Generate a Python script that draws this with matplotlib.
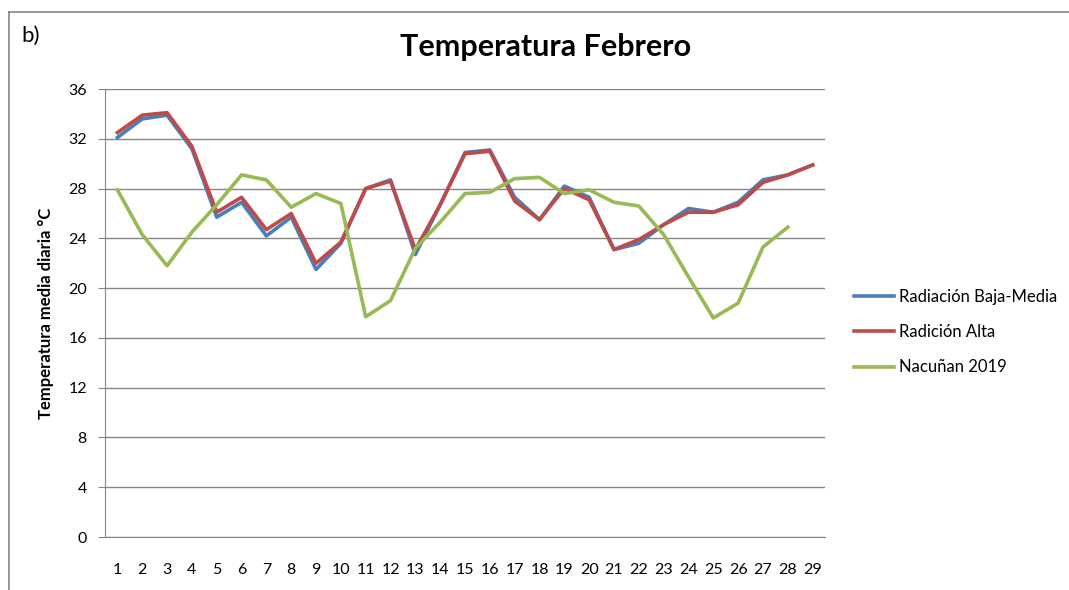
import numpy as np
from matplotlib import pyplot as plt
from matplotlib.lines import Line2D

# datos ----------------------------------------
dias = list(range(1, 30))
rad_baja_media = [32.1, 33.6, 33.9, 31.2, 25.7, 26.9, 24.2, 25.7, 21.5, 23.6,
                  28.0, 28.7, 22.7, 26.7, 30.9, 31.1, 27.3, 25.5, 28.2, 27.3,
                  23.1, 23.6, 25.1, 26.4, 26.1, 26.9, 28.7, 29.1, 29.9]
rad_alta = [32.5, 33.9, 34.1, 31.4, 26.1, 27.3, 24.7, 26.0, 22.0, 23.7,
            28.0, 28.6, 23.1, 26.7, 30.8, 31.0, 27.0, 25.5, 28.0, 27.1,
            23.1, 23.9, 25.1, 26.1, 26.1, 26.7, 28.5, 29.1, 29.9]
nacunan_2019 = [27.9, 24.3, 21.8, 24.5, 26.7, 29.1, 28.7, 26.5, 27.6, 26.8,
                17.7, 19.0, 23.2, 25.3, 27.6, 27.7, 28.8, 28.9, 27.6, 27.9,
                26.9, 26.6, 24.3, 20.9, 17.6, 18.8, 23.3, 24.9]

plt.rcParams['font.family'] = ['Lato', 'DejaVu Sans']

fig = plt.figure(figsize=(10.69, 5.90), dpi=100)
ax = fig.add_axes([0.0982, 0.0898, 0.6736, 0.7593])

ax.plot(dias, rad_baja_media, color='#4A7EBB', lw=2.6, label='Radiación Baja-Media')
ax.plot(dias, rad_alta, color='#BE4B48', lw=2.6, label='Radición Alta')
ax.plot(dias[:len(nacunan_2019)], nacunan_2019, color='#98B954', lw=2.6,
        label='Nacuñan 2019')

ax.set_xlim(0.5, 29.5)
ax.set_ylim(0, 36)
ax.set_yticks(np.arange(0, 37, 4))
ax.set_xticks(dias)
ax.grid(axis='y', color='#868686', lw=1)
ax.set_axisbelow(True)
for s in ['top', 'right']:
    ax.spines[s].set_visible(False)
for s in ['left', 'bottom']:
    ax.spines[s].set_color('#868686')
ax.tick_params(axis='y', length=5, color='#868686', labelsize=11.5, pad=8)
ax.tick_params(axis='x', length=0, labelsize=11.5, pad=19)
ax.set_ylabel('Temperatura media diaria °C', fontsize=12, fontweight='bold', labelpad=10)

fig.text(0.51, 0.92, 'Temperatura Febrero', ha='center', va='center',
         fontsize=22, fontweight='bold')
fig.text(0.02, 0.94, 'b)', ha='left', va='center', fontsize=16)

ax.legend(loc='center left', bbox_to_anchor=(0.785, 0.437), bbox_transform=fig.transFigure,
          frameon=False, fontsize=12, handlelength=2.4, labelspacing=1.15,
          handletextpad=0.3)

# marco del grafico
fig.add_artist(Line2D([0.0085, 0.0085], [0, 0.98], color='#868686', lw=1.2))
fig.add_artist(Line2D([0.0085, 1], [0.98, 0.98], color='#868686', lw=1.2))

plt.savefig('out.png', dpi=100)
